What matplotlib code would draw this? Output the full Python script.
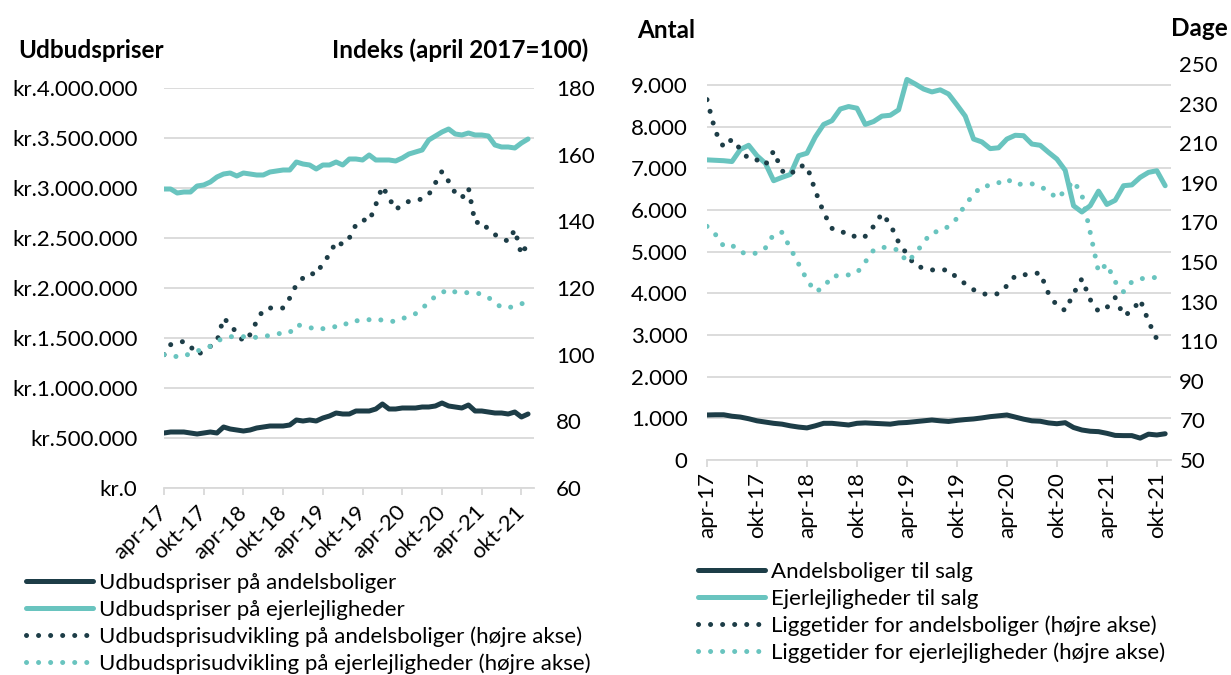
import numpy as np
import matplotlib
matplotlib.use('Agg')
import matplotlib.pyplot as plt
from matplotlib.lines import Line2D
from matplotlib.ticker import FuncFormatter

plt.rcParams['font.family'] = ['Lato', 'DejaVu Sans']

DARK = '#1d3d47'
TEAL = '#69c4bf'
GRID = '#d9d9d9'
DOTS = (0, (0.01, 2.4))
FS = 16

tick_labels = ['apr-17', 'okt-17', 'apr-18', 'okt-18', 'apr-19',
               'okt-19', 'apr-20', 'okt-20', 'apr-21', 'okt-21']

# venstre figur: udbudspriser (mio. kr.) og indeks (april 2017=100), apr-17 .. nov-21
pris_andel = [0.55, 0.56, 0.56, 0.56, 0.55, 0.54, 0.55, 0.56, 0.55, 0.61,
              0.59, 0.58, 0.57, 0.58, 0.60, 0.61, 0.62, 0.62, 0.62, 0.63,
              0.68, 0.67, 0.68, 0.67, 0.70, 0.72, 0.75, 0.74, 0.74, 0.77,
              0.77, 0.77, 0.79, 0.84, 0.79, 0.79, 0.80, 0.80, 0.80, 0.81,
              0.81, 0.82, 0.85, 0.82, 0.81, 0.80, 0.83, 0.77, 0.77, 0.76,
              0.75, 0.75, 0.74, 0.76, 0.71, 0.74]
pris_ejer = [2.99, 2.99, 2.95, 2.96, 2.96, 3.02, 3.03, 3.06, 3.11, 3.14,
             3.15, 3.12, 3.15, 3.14, 3.13, 3.13, 3.16, 3.17, 3.18, 3.18,
             3.26, 3.24, 3.23, 3.19, 3.23, 3.23, 3.26, 3.23, 3.29, 3.29,
             3.28, 3.33, 3.28, 3.28, 3.28, 3.27, 3.30, 3.34, 3.36, 3.38,
             3.48, 3.52, 3.56, 3.59, 3.54, 3.53, 3.55, 3.53, 3.53, 3.52,
             3.43, 3.41, 3.41, 3.40, 3.45, 3.49]
indeks_andel = [100, 103, 103.5, 104, 102.5, 100, 101, 102.5, 104, 111,
                109, 106.5, 104, 106, 110, 113.5, 114, 114, 114, 117,
                121, 123, 124.5, 124, 127.5, 130, 134, 133, 135, 139,
                140.5, 140, 145, 150.5, 147, 143.5, 145, 146, 146.3, 146.7,
                148, 151.5, 155, 152, 148.5, 147, 150, 139.5, 140, 137.5,
                136, 135, 134, 137.5, 130, 133.5]
indeks_ejer = [100, 99.7, 99.4, 99.4, 100.5, 101, 102, 102.5, 104, 105,
               105.4, 105.4, 105.4, 105.2, 105.2, 105.4, 105.8, 106.2, 106.5, 106.6,
               109, 108.6, 108.2, 107.5, 107.8, 108.3, 108.4, 108.5, 110, 110.2,
               110.1, 110.5, 110.8, 110.3, 110, 110, 110.8, 111.5, 112.3, 114,
               115.5, 117.6, 118.6, 119.6, 118.8, 118.6, 118.6, 118.5, 118.2, 117.2,
               115.5, 114.2, 114.1, 114.5, 115.3, 115.5]

# hoejre figur: antal til salg og liggetider (dage)
antal_andel = [1080, 1085, 1085, 1050, 1030, 990, 940, 910, 880, 860,
               820, 790, 770, 820, 880, 880, 860, 840, 880, 890,
               880, 870, 860, 890, 900, 920, 940, 960, 940, 925,
               950, 970, 985, 1010, 1040, 1060, 1080, 1030, 980, 940,
               930, 890, 870, 895, 780, 720, 690, 680, 640, 590,
               585, 585, 525, 620, 600, 630]
antal_ejer = [7200, 7190, 7180, 7160, 7450, 7550, 7300, 7120, 6700, 6780,
              6850, 7300, 7360, 7750, 8050, 8140, 8420, 8480, 8440, 8050,
              8120, 8250, 8270, 8400, 9130, 9020, 8900, 8830, 8880, 8780,
              8520, 8250, 7700, 7630, 7470, 7490, 7700, 7790, 7780, 7580,
              7550, 7380, 7220, 6950, 6100, 5950, 6100, 6450, 6130, 6230,
              6580, 6600, 6780, 6900, 6940, 6580]
dage_andel = [232, 216, 208, 212, 207, 202, 201.5, 199, 206, 196,
              194, 198.5, 198.5, 186, 175, 167, 165, 165, 162, 163,
              168, 174.5, 169, 160, 154, 148, 147, 146, 146, 146,
              142, 139, 136, 134, 133.5, 134, 138, 143, 143.5, 144,
              144.5, 134, 128, 125.5, 134, 141.5, 131, 125, 127, 132,
              123, 125, 131, 120, 111, 109]
dage_ejer = [168, 164, 158, 158.5, 155, 154, 154.5, 157, 164, 165,
             157, 149, 141, 135, 137, 143, 143, 143.5, 144.5, 150,
             156, 157.5, 157, 156, 150, 154, 160, 165, 165.5, 168,
             172, 179, 184, 188.5, 188.5, 190, 192, 189, 189.5, 189.5,
             188, 186, 182, 186, 191, 184, 165, 145, 149, 140,
             135, 140, 141.5, 142, 142.2, 143]


def kr_fmt(v, pos):
    return 'kr.' + f'{int(round(v)):,}'.replace(',', '.')


def dot_fmt(v, pos):
    return f'{int(round(v)):,}'.replace(',', '.')


def style_axes(ax, axr):
    for a in (ax, axr):
        for s in a.spines.values():
            s.set_visible(False)
    ax.spines['bottom'].set_visible(True)
    ax.spines['bottom'].set_color(GRID)
    ax.spines['bottom'].set_linewidth(1.3)
    ax.grid(axis='y', color=GRID, lw=1.3)
    ax.set_axisbelow(True)
    ax.tick_params(axis='x', length=5, width=1.3, color=GRID, labelsize=FS)


fig = plt.figure(figsize=(12.31, 6.75), dpi=100)
W, H = 1231, 675

# ---- venstre ----
ax1 = fig.add_axes([164 / W, 1 - 488 / H, 370 / W, 400 / H])
ax1r = ax1.twinx()
x1 = np.arange(len(pris_andel))
ax1.plot(x1, np.array(pris_andel) * 1e6, color=DARK, lw=3.6, solid_capstyle='round')
ax1.plot(x1, np.array(pris_ejer) * 1e6, color=TEAL, lw=3.6, solid_capstyle='round')
ax1r.plot(x1, indeks_andel, color=DARK, lw=3.6, ls=DOTS, dash_capstyle='round')
ax1r.plot(x1, indeks_ejer, color=TEAL, lw=3.6, ls=DOTS, dash_capstyle='round')

ax1.set_xlim(0, 55.9)
ax1.set_ylim(0, 4e6)
ax1.set_yticks(np.arange(0, 4.01e6, 5e5))
ax1.yaxis.set_major_formatter(FuncFormatter(kr_fmt))
ax1r.set_ylim(60, 180)
ax1r.set_yticks(range(60, 181, 20))
style_axes(ax1, ax1r)
ax1.tick_params(axis='y', length=0, pad=19, labelsize=FS)
ax1r.tick_params(axis='y', length=0, pad=16, labelsize=FS)
ax1.set_xticks(range(0, 55, 6))
ax1.set_xticklabels(tick_labels, rotation=45, ha='right', va='center',
                    rotation_mode='anchor')
ax1.tick_params(axis='x', pad=10)

fig.text(18 / W, 1 - 50 / H, 'Udbudspriser', fontsize=17.5, weight='bold', va='center')
fig.text(588 / W, 1 - 50 / H, 'Indeks (april 2017=100)', fontsize=17.5,
         weight='bold', va='center', ha='right')

h1 = [Line2D([], [], color=DARK, lw=3.6, solid_capstyle='round'),
      Line2D([], [], color=TEAL, lw=3.6, solid_capstyle='round'),
      Line2D([], [], color=DARK, lw=3.6, ls=DOTS, dash_capstyle='round'),
      Line2D([], [], color=TEAL, lw=3.6, ls=DOTS, dash_capstyle='round')]
fig.legend(h1, ['Udbudspriser på andelsboliger', 'Udbudspriser på ejerlejligheder',
                'Udbudsprisudvikling på andelsboliger (højre akse)',
                'Udbudsprisudvikling på ejerlejligheder (højre akse)'],
           loc='upper left', bbox_to_anchor=(26 / W, 1 - 573 / H), frameon=False,
           fontsize=FS, handlelength=3.0, handletextpad=0.3, labelspacing=0.3,
           borderpad=0, borderaxespad=0)

# ---- hoejre ----
ax2 = fig.add_axes([707 / W, 1 - 460 / H, 464 / W, 396 / H])
ax2r = ax2.twinx()
x2 = np.arange(len(antal_andel))
ax2.plot(x2, antal_andel, color=DARK, lw=3.6, solid_capstyle='round')
ax2.plot(x2, antal_ejer, color=TEAL, lw=3.6, solid_capstyle='round')
ax2r.plot(x2, dage_andel, color=DARK, lw=3.6, ls=DOTS, dash_capstyle='round')
ax2r.plot(x2, dage_ejer, color=TEAL, lw=3.6, ls=DOTS, dash_capstyle='round')

ax2.set_xlim(0, 55.7)
ax2.set_ylim(0, 9500)
ax2.set_yticks(range(0, 9001, 1000))
ax2.yaxis.set_major_formatter(FuncFormatter(dot_fmt))
ax2r.set_ylim(50, 250)
ax2r.set_yticks(range(50, 251, 20))
style_axes(ax2, ax2r)
ax2.tick_params(axis='y', length=0, pad=14, labelsize=FS)
ax2r.tick_params(axis='y', length=0, pad=6, labelsize=FS)
ax2.set_xticks(range(0, 55, 6))
ax2.set_xticklabels(tick_labels, rotation=90)
ax2.tick_params(axis='x', pad=4)

fig.text(637 / W, 1 - 30 / H, 'Antal', fontsize=17.5, weight='bold', va='center')
fig.text(1228 / W, 1 - 28 / H, 'Dage', fontsize=17.5, weight='bold', va='center', ha='right')

fig.legend(h1, ['Andelsboliger til salg', 'Ejerlejligheder til salg',
                'Liggetider for andelsboliger (højre akse)',
                'Liggetider for ejerlejligheder (højre akse)'],
           loc='upper left', bbox_to_anchor=(698 / W, 1 - 562 / H), frameon=False,
           fontsize=FS, handlelength=3.0, handletextpad=0.3, labelspacing=0.3,
           borderpad=0, borderaxespad=0)

fig.savefig('out.png', dpi=100)
